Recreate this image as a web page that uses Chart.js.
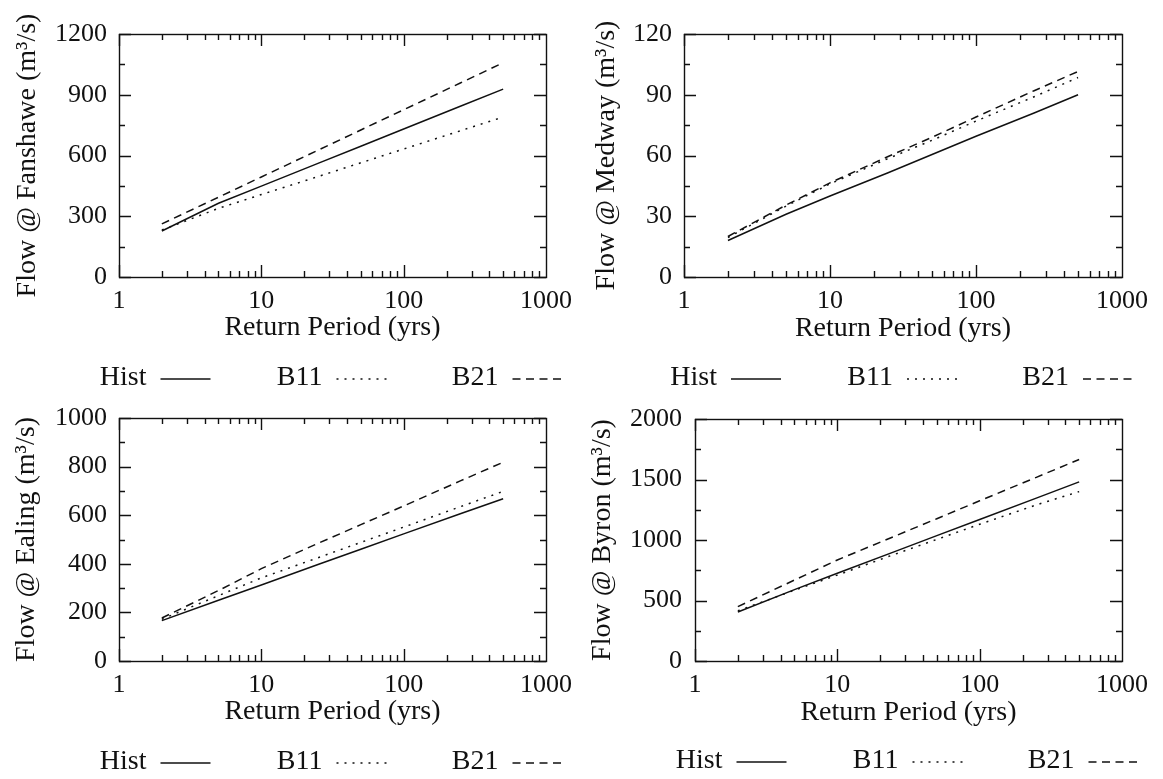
<!DOCTYPE html>
<html><head><meta charset="utf-8">
<script src="https://cdn.jsdelivr.net/npm/chart.js@4.4.0/dist/chart.umd.min.js"></script>
<style>
html,body{margin:0;padding:0;background:#fff;}
#wrap{position:relative;width:1163px;height:779px;overflow:hidden;background:#fff;}
canvas{position:absolute;}
</style></head><body>
<div id="wrap">
<canvas id="c1" width="581" height="390" style="left:0px;top:0px"></canvas>
<canvas id="c2" width="582" height="390" style="left:581px;top:0px"></canvas>
<canvas id="c3" width="581" height="389" style="left:0px;top:390px"></canvas>
<canvas id="c4" width="582" height="389" style="left:581px;top:390px"></canvas>
</div>
<script>
// ---- data ----
const returnPeriods = [2, 5, 10, 25, 50, 100, 250, 500];
const seriesNames = ['Hist', 'B11', 'B21'];
const xTickValues = [1, 10, 100, 1000];
const xTitle = 'Return Period (yrs)';

const fanshaweHist = [227, 364, 449, 561, 646, 731, 843, 928];
const fanshaweB11  = [232, 339, 407, 496, 564, 632, 722, 790];
const fanshaweB21  = [262, 394, 494, 626, 726, 826, 958, 1058];
const fanshaweYTicks = [0, 300, 600, 900, 1200];

const medwayHist = [18, 31, 40, 51.5, 60.5, 69.5, 81, 90];
const medwayB11  = [19.5, 35, 46, 58.5, 67.5, 77, 89, 98.5];
const medwayB21  = [20, 35.5, 46.5, 59.5, 69, 79, 92, 101.5];
const medwayYTicks = [0, 30, 60, 90, 120];

const ealingHist = [166, 250, 313, 397, 460, 523, 606, 668];
const ealingB11  = [172, 269, 342, 425, 488, 551, 635, 698];
const ealingB21  = [177, 290, 380, 484, 561, 638, 741, 818];
const ealingYTicks = [0, 200, 400, 600, 800, 1000];

const byronHist = [405, 590, 725, 902, 1036, 1169, 1346, 1480];
const byronB11  = [415, 585, 710, 880, 1005, 1130, 1290, 1400];
const byronB21  = [449, 669, 835, 1029, 1176, 1324, 1518, 1665];
const byronYTicks = [0, 500, 1000, 1500, 2000];

// ---- styling ----
const FONT = '"Liberation Serif", "Times New Roman", serif';
const INK = '#111111';
const dashes = [[], [2, 6], [8, 5.5]];

const frameTicks = {
  id: 'frameTicks',
  afterDatasetsDraw(chart) {
    const {ctx, chartArea: a, scales: {x, y}} = chart;
    const yt = chart.options.plugins.frameTicks.yTicks;
    ctx.save();
    ctx.strokeStyle = INK;
    ctx.lineWidth = 1.4;
    ctx.setLineDash([]);
    ctx.beginPath();
    for (let k = 0; k < 3; k++) {
      for (let m = 1; m <= 9; m++) {
        const v = m * Math.pow(10, k);
        const px = Math.round(x.getPixelForValue(v)) + 0.5;
        const len = m === 1 ? 12 : 6;
        ctx.moveTo(px, a.bottom); ctx.lineTo(px, a.bottom - len);
        ctx.moveTo(px, a.top); ctx.lineTo(px, a.top + len);
      }
    }
    for (let i = 0; i < yt.length; i++) {
      const py = Math.round(y.getPixelForValue(yt[i])) + 0.5;
      ctx.moveTo(a.left, py); ctx.lineTo(a.left + 12, py);
      ctx.moveTo(a.right, py); ctx.lineTo(a.right - 12, py);
      if (i < yt.length - 1) {
        const pm = Math.round(y.getPixelForValue((yt[i] + yt[i + 1]) / 2)) + 0.5;
        ctx.moveTo(a.left, pm); ctx.lineTo(a.left + 6, pm);
        ctx.moveTo(a.right, pm); ctx.lineTo(a.right - 6, pm);
      }
    }
    ctx.stroke();
    ctx.strokeRect(Math.round(a.left) + 0.5, Math.round(a.top) + 0.5,
                   Math.round(a.right - a.left), Math.round(a.bottom - a.top));
    ctx.restore();
  },
  afterDraw(chart) {
    const {ctx, chartArea: a} = chart;
    const o = chart.options.plugins.frameTicks;
    const c = (a.left + a.right) / 2;
    ctx.save();
    ctx.font = '28px ' + FONT;
    ctx.fillStyle = INK;
    ctx.textAlign = 'right';
    ctx.textBaseline = 'middle';
    chart.data.datasets.forEach((ds, i) => {
      const te = c - 186 + 176 * i;
      ctx.fillText(ds.label, te, o.legendY);
      ctx.strokeStyle = INK;
      ctx.lineWidth = 1.5;
      ctx.setLineDash(ds.borderDash || []);
      ctx.beginPath();
      ctx.moveTo(te + 14, o.legendY + 1);
      ctx.lineTo(te + 64, o.legendY + 1);
      ctx.stroke();
    });
    ctx.restore();
  }
};

function makePanel(id, yTitle, series, yTicks, g) {
  const canvas = document.getElementById(id);
  const W = canvas.width, H = canvas.height;
  const datasets = series.map((vals, i) => ({
    label: seriesNames[i],
    data: returnPeriods.map((rp, j) => ({x: rp, y: vals[j]})),
    borderColor: INK,
    borderWidth: 1.5,
    borderDash: dashes[i],
    pointRadius: 0,
    fill: false,
    tension: 0
  }));
  const axisBottom = g.xTitleY + 16.8;
  new Chart(canvas, {
    type: 'line',
    data: {datasets},
    plugins: [frameTicks],
    options: {
      responsive: false,
      animation: false,
      devicePixelRatio: 1,
      layout: {padding: {left: 0, top: g.top, right: W - g.right, bottom: H - axisBottom}},
      plugins: {
        legend: {display: false},
        tooltip: {enabled: false},
        frameTicks: {yTicks: yTicks, legendY: g.legendY}
      },
      scales: {
        x: {
          type: 'logarithmic',
          min: xTickValues[0],
          max: xTickValues[xTickValues.length - 1],
          grid: {display: false, drawTicks: false},
          border: {display: false},
          afterBuildTicks: s => { s.ticks = xTickValues.map(v => ({value: v})); },
          afterFit: s => { s.height = axisBottom - g.bottom; },
          ticks: {
            callback: v => String(v),
            color: INK, padding: g.xTickPad, maxRotation: 0, autoSkip: false,
            font: {family: FONT, size: 26}
          },
          title: {display: true, text: xTitle, color: INK, padding: 0,
                  font: {family: FONT, size: 28, lineHeight: 1.2}}
        },
        y: {
          type: 'linear',
          min: yTicks[0],
          max: yTicks[yTicks.length - 1],
          grid: {display: false, drawTicks: false},
          border: {display: false},
          afterBuildTicks: s => { s.ticks = yTicks.map(v => ({value: v})); },
          afterFit: s => { s.width = g.left; },
          ticks: {
            callback: v => String(v),
            color: INK, padding: g.yTickPad,
            font: {family: FONT, size: 26}
          },
          title: {display: true, text: yTitle, color: INK,
                  padding: {top: g.yTitleX - 16.8, bottom: 0},
                  font: {family: FONT, size: 28, lineHeight: 1.2}}
        }
      }
    }
  });
}

makePanel('c1', 'Flow @ Fanshawe (m³/s)', [fanshaweHist, fanshaweB11, fanshaweB21], fanshaweYTicks,
  {left: 119, right: 546, top: 34, bottom: 277, xTitleY: 328, yTitleX: 28, legendY: 378, xTickPad: 9, yTickPad: 12});
makePanel('c2', 'Flow @ Medway (m³/s)', [medwayHist, medwayB11, medwayB21], medwayYTicks,
  {left: 103, right: 541, top: 34, bottom: 277, xTitleY: 329, yTitleX: 25.4, legendY: 378, xTickPad: 9, yTickPad: 12});
makePanel('c3', 'Flow @ Ealing (m³/s)', [ealingHist, ealingB11, ealingB21], ealingYTicks,
  {left: 119, right: 546, top: 28, bottom: 271, xTitleY: 321.5, yTitleX: 26.8, legendY: 372, xTickPad: 9, yTickPad: 12});
makePanel('c4', 'Flow @ Byron (m³/s)', [byronHist, byronB11, byronB21], byronYTicks,
  {left: 114, right: 541, top: 29, bottom: 271, xTitleY: 323, yTitleX: 22, legendY: 371, xTickPad: 9, yTickPad: 13});
</script>
</body></html>
